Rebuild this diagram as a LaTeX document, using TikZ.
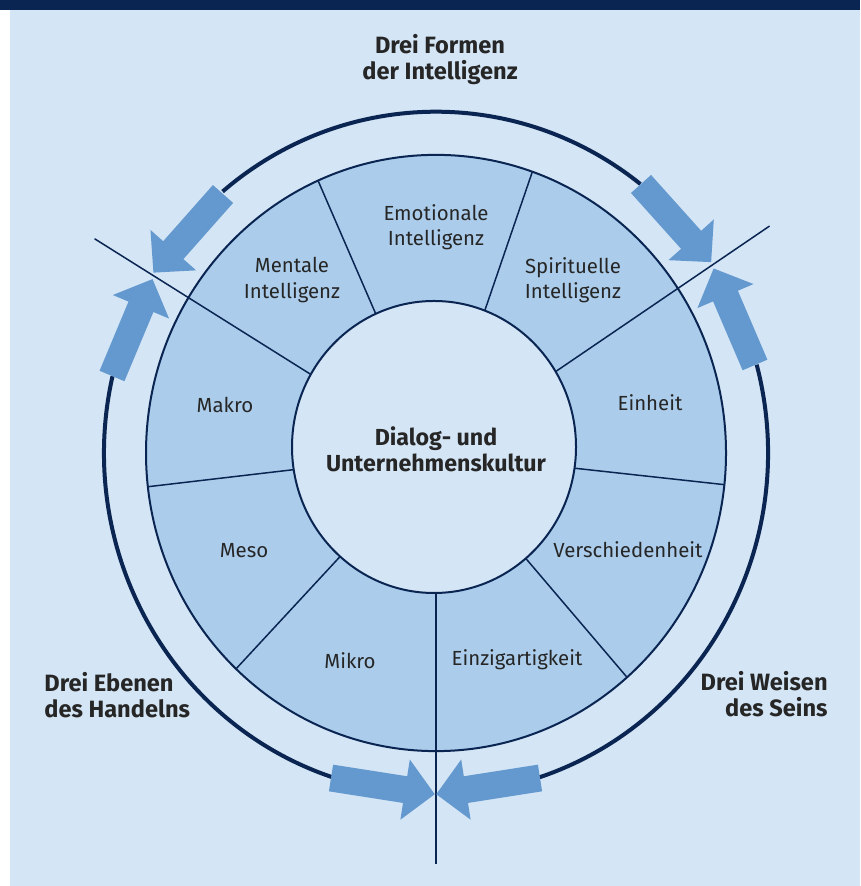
\documentclass[tikz,border=0pt]{standalone}
\usepackage{fontspec}
\setmainfont{Fira Sans}
\usetikzlibrary{calc}
\definecolor{Hintergrund}{HTML}{D4E5F5}
\definecolor{Segment}{HTML}{ABCDEB}
\definecolor{Pfeilblau}{HTML}{6499CF}
\definecolor{Linie}{HTML}{0A2552}
\definecolor{Schrift}{HTML}{262626}

\tikzset{
  Beschriftung/.style={text=Schrift, align=center, font=\fontsize{10.2}{12.75}\selectfont},
  Titel/.style={text=Schrift, font=\bfseries\fontsize{11.6}{13}\selectfont},
  Gruppe/.style={text=Schrift, inner sep=0pt, font=\bfseries\fontsize{11.8}{13}\selectfont},
  Speiche/.style={draw=Linie, line width=0.75pt},
  Pfeil/.style={fill=Pfeilblau},
}

\begin{document}
\begin{tikzpicture}[x=0.5pt, y=0.5pt]
    \useasboundingbox (0,0) rectangle (860,886);
    \fill[white] (0,0) rectangle (860,886);
    \fill[Hintergrund] (10,0) rectangle (860,876);
    \fill[Linie] (0,876) rectangle (860,886);

    \coordinate (M) at (436,433);
    \coordinate (K) at (434,439);

    \begin{scope}[shift={(M)}, yscale=1.028]
        % Ring mit neun Feldern
        \fill[Segment] (0,0) circle (290);
        \foreach \a in {-48.8,-6.1,70.6,114,186.5,226.4}
            \draw[Speiche] (0,0) -- (\a:290);
        % lange Trennlinien zwischen den drei Gruppen
        \foreach \a in {-90,33.5,148.6}
            \draw[Speiche] (0,0) -- (\a:400);
        \draw[Linie, line width=1pt] (0,0) circle (290);

        % aeusserer Kreis in drei Boegen
        \draw[Linie, line width=2pt] (52:332) arc (52:130:332);
        \draw[Linie, line width=2pt] (167:332) arc (167:252:332);
        \draw[Linie, line width=2pt] (-72:332) arc (-72:15:332);
    \end{scope}

    % innerer Kreis
    \draw[Linie, line width=1pt, fill=Hintergrund] (K) ellipse [x radius=142, y radius=146];

    % Pfeile: Ende x/y, Richtung
    \foreach \x/\y/\w in {223/692/-131.5, 112/510/67.3, 641/702/-48.1,
                          755/521/113.2, 331/108/-8.9, 540/108/188.9}
        \fill[Pfeil, shift={(\x,\y)}, rotate=\w]
            (0,-13.5) -- (75,-13.5) -- (75,-30.5) -- (105,0)
            -- (75,30.5) -- (75,13.5) -- (0,13.5) -- cycle;

    \node[Gruppe, align=center] (formen) at (440,826) {Drei Formen\\der Intelligenz};
    \node[Gruppe, align=left, anchor=west] (ebenen) at (44,191) {Drei Ebenen\\des Handelns};
    \node[Gruppe, align=right, anchor=east] (weisen) at (828,192) {Drei Weisen\\des Seins};
    \node[Titel, align=center] (kultur) at (436,437) {Dialog- und\\Unternehmenskultur};

    \node[Beschriftung] (emo) at (436,659) {Emotionale\\Intelligenz};
    \node[Beschriftung] (ment) at (292,606) {Mentale\\Intelligenz};
    \node[Beschriftung] (spir) at (573,606) {Spirituelle\\Intelligenz};
    \node[Beschriftung] (makro) at (225,481) {Makro};
    \node[Beschriftung] (einheit) at (650,483) {Einheit};
    \node[Beschriftung] (meso) at (244,335) {Meso};
    \node[Beschriftung] (versch) at (628,336) {Verschiedenheit};
    \node[Beschriftung] (mikro) at (350,225) {Mikro};
    \node[Beschriftung] (einzig) at (517,226) {Einzigartigkeit};
\end{tikzpicture}
\end{document}
